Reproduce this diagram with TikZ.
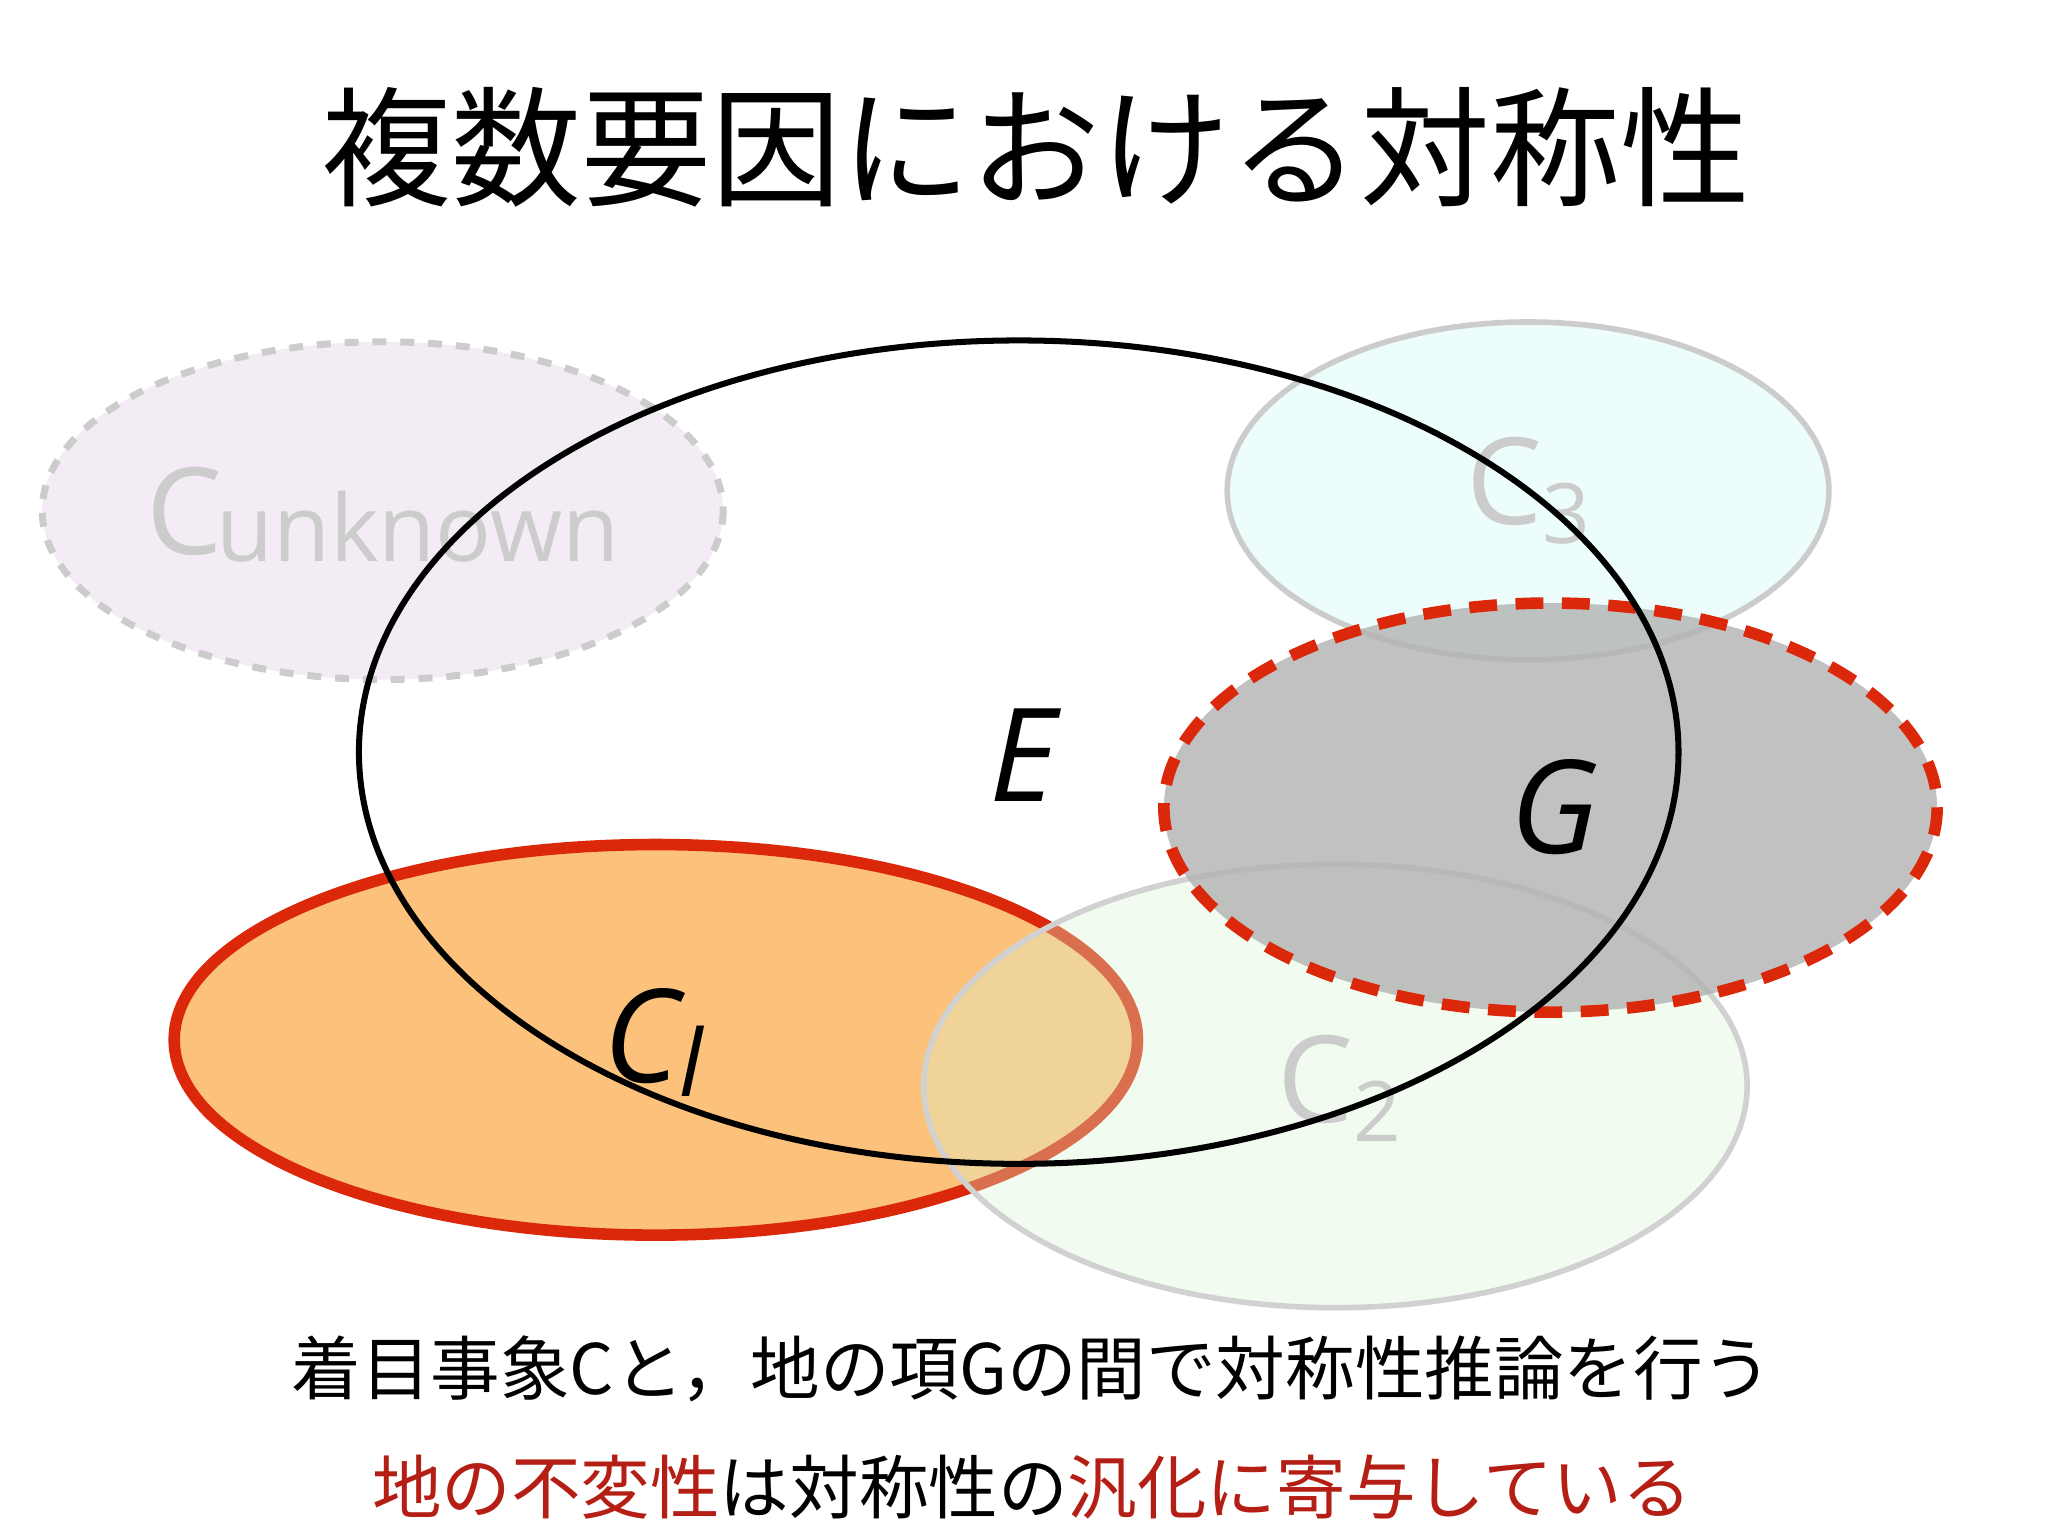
\documentclass[tikz,border=0pt]{standalone}
\usepackage{fontspec}
\setmainfont{Open Sans}
\newfontfamily\jp{Noto Sans CJK JP}
\definecolor{redc}{RGB}{220,40,10}
\definecolor{darkred}{RGB}{180,30,20}
\tikzset{lbl/.style={font=\fontsize{28}{30}\selectfont\itshape},
 faint/.style={text=black!20,font=\fontsize{26}{28}\selectfont}}
\begin{document}
\begin{tikzpicture}[x=1cm,y=-1cm]
\useasboundingbox (0,0) rectangle (15.52,11.64);
\fill[white] (0,0) rectangle (15.52,11.64);
\node[font=\jp\fontsize{28}{30}\selectfont] (title) at (7.85,1.12) {複数要因における対称性};
% Cunknown
\draw[black!20,dashed,line width=1.5pt,fill={rgb,255:red,243;green,236;blue,244}] (2.9,3.87) ellipse (2.58 and 1.28);
\node[faint] (cu) at (2.9,3.9) {C\kern-0.05em\raisebox{-0.1ex}{\fontsize{20}{20}\selectfont unknown}};
% C3
\draw[black!20,line width=1.2pt,fill={rgb,255:red,236;green,253;blue,252}] (11.58,3.72) ellipse (2.28 and 1.28);
\node[faint] (c3) at (11.58,3.72) {C\raisebox{-0.3ex}{\fontsize{18}{18}\selectfont 3}};
% C1
\draw[redc,line width=2.5pt,fill={rgb,255:red,252;green,178;blue,90},fill opacity=0.8] (4.97,7.88) ellipse (3.65 and 1.48);
% C2
\draw[black!18,line width=1.2pt,fill={rgb,255:red,215;green,245;blue,210},fill opacity=0.35] (10.12,8.23) ellipse (3.12 and 1.68);
\node[faint] (c2) at (10.15,8.25) {C\raisebox{-0.3ex}{\fontsize{18}{18}\selectfont 2}};
% G
\fill[black!30,fill opacity=0.8] (11.75,6.12) ellipse (2.93 and 1.55);
\draw[redc,line width=2.5pt,dash pattern=on 6pt off 4pt] (11.75,6.12) ellipse (2.93 and 1.55);
% E
\draw[black,line width=1.3pt] (7.72,5.7) ellipse (5.0 and 3.12);
\node[lbl] (e) at (7.75,5.72) {E};
\node[lbl] (g) at (11.78,6.12) {G};
\node[lbl] (c1) at (4.95,7.9) {C\raisebox{-0.2ex}{\fontsize{20}{20}\selectfont\itshape l}};
% bottom text
\node[font=\jp\fontsize{15}{17}\selectfont] (t1) at (7.82,10.37) {着目事象\textit{C}と，地の項\textit{G}の間で対称性推論を行う};
\node[font=\jp\fontsize{15}{17}\selectfont] (t2) at (7.82,11.27) {\textcolor{darkred}{地の不変性}は対称性の\textcolor{darkred}{汎化に寄与している}};
\end{tikzpicture}
\end{document}
